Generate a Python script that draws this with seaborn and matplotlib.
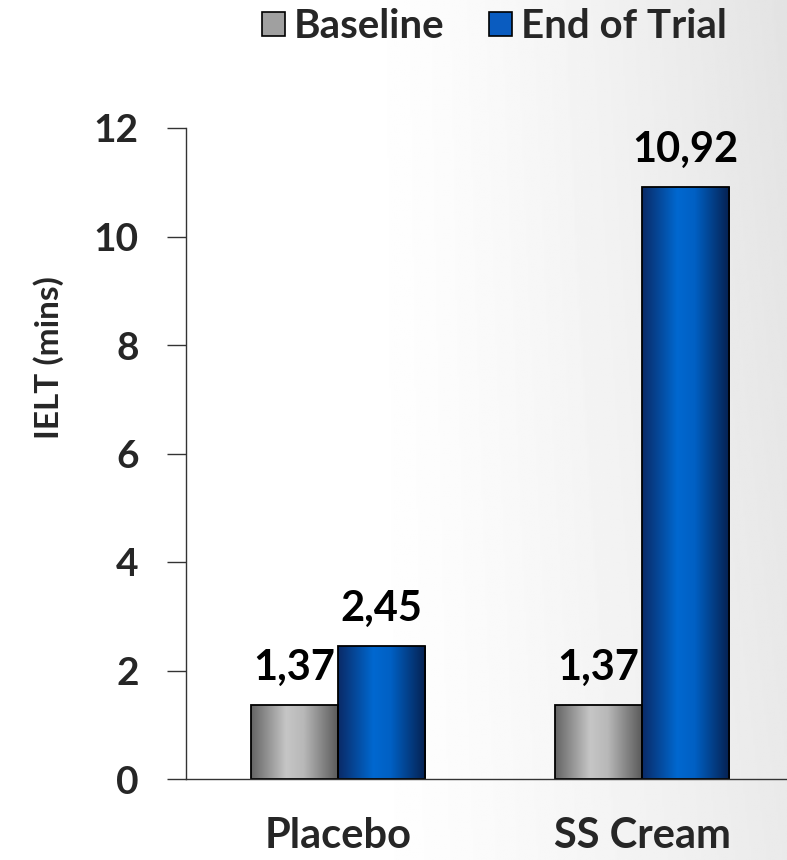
import numpy as np
import pandas as pd
import matplotlib
matplotlib.use("Agg")
import matplotlib.pyplot as plt
import seaborn as sns
from matplotlib.colors import LinearSegmentedColormap
from matplotlib.patches import Patch

# Data
groups = ["Placebo", "SS Cream"]
series = ["Baseline", "End of Trial"]
baseline = [1.37, 1.37]
end_of_trial = [2.45, 10.92]
y_ticks = [0, 2, 4, 6, 8, 10, 12]

df = pd.DataFrame({
    "group": groups * 2,
    "series": [series[0]] * len(groups) + [series[1]] * len(groups),
    "ielt": baseline + end_of_trial,
})

sns.set_style("white")
plt.rcParams["font.family"] = ["Lato", "DejaVu Sans"]
plt.rcParams["font.weight"] = "bold"

W, H = 787, 860
fig = plt.figure(figsize=(W / 100, H / 100), dpi=100)

# soft slide-style background: white on the left fading to light grey on the right
bg = fig.add_axes([0, 0, 1, 1], zorder=-10)
xx, yy = np.meshgrid(np.linspace(0, 1, 400), np.linspace(0, 1, 400))
shade = np.clip((xx - 0.45) / 0.55, 0, 1) ** 1.3 * (0.75 + 0.25 * (1 - yy))
bg.imshow(1 - 0.11 * shade, cmap="gray", vmin=0, vmax=1, extent=[0, 1, 0, 1],
          aspect="auto", origin="upper")
bg.axis("off")

ax = fig.add_axes([186 / W, 81 / H, 608 / W, 651 / H])
ax.patch.set_alpha(0)

gray_mid, blue_mid = "#a8a8a8", "#0a5cc0"
sns.barplot(data=df, x="group", y="ielt", hue="series", order=groups,
            hue_order=series, palette=[gray_mid, blue_mid], width=0.575,
            edgecolor="black", linewidth=1.3, legend=False, ax=ax)

# cylinder-like horizontal shading inside each bar
cmaps = {
    series[0]: LinearSegmentedColormap.from_list(
        "g", [(0, "#646464"), (0.4, "#c6c6c6"), (0.6, "#b8b8b8"), (1, "#585858")]),
    series[1]: LinearSegmentedColormap.from_list(
        "b", [(0, "#0a2a66"), (0.4, "#0068d0"), (0.6, "#0060c4"), (1, "#06204f")]),
}
grad = np.linspace(0, 1, 256).reshape(1, -1)
for name, container in zip(series, ax.containers):
    for bar in container:
        x0, y0 = bar.get_x(), bar.get_y()
        im = ax.imshow(grad, cmap=cmaps[name], extent=[x0, x0 + bar.get_width(), y0, y0 + bar.get_height()],
                       aspect="auto", zorder=bar.get_zorder() - 0.01, interpolation="bilinear")
        im.set_clip_path(bar)
        bar.set_facecolor("none")
    ax.bar_label(container, labels=[f"{v:.2f}".replace(".", ",") for v in container.datavalues],
                 padding=13, fontsize=30, fontweight="bold", color="black")

ax.set_xlim(-0.5, 1.5)
ax.set_ylim(0, 12)
ax.set_yticks(y_ticks)
ax.set_yticklabels([str(t) for t in y_ticks], fontsize=28, fontweight="bold")
ax.set_xticks(range(len(groups)))
ax.set_xticklabels(groups, fontsize=30, fontweight="bold")
ax.set_xticks([-0.5, 0.5, 1.5], minor=True)
ax.tick_params(axis="x", which="major", length=0, pad=27)
ax.tick_params(axis="x", which="minor", length=12, width=1, color="#333333", direction="out")
ax.tick_params(axis="y", length=14, width=1, color="#333333", direction="out", pad=20, left=True)
ax.set_xlabel("")
ax.set_ylabel("IELT (mins)", fontsize=24, fontweight="bold")
ax.yaxis.set_label_coords(-0.2, 0.647)
for side in ("top", "right"):
    ax.spines[side].set_visible(False)
for side in ("left", "bottom"):
    ax.spines[side].set_color("#333333")
    ax.spines[side].set_linewidth(1)

handles = [Patch(facecolor="#a0a0a0", edgecolor="black", linewidth=1.2),
           Patch(facecolor="#0a5cc0", edgecolor="black", linewidth=1.2)]
fig.legend(handles, series, loc="center", bbox_to_anchor=(0.628, 0.969), ncol=2,
           frameon=False, prop={"weight": "bold", "size": 29},
           handlelength=0.57, handleheight=0.57, handletextpad=0.22, columnspacing=1.1)

fig.savefig("out.png", dpi=100)
